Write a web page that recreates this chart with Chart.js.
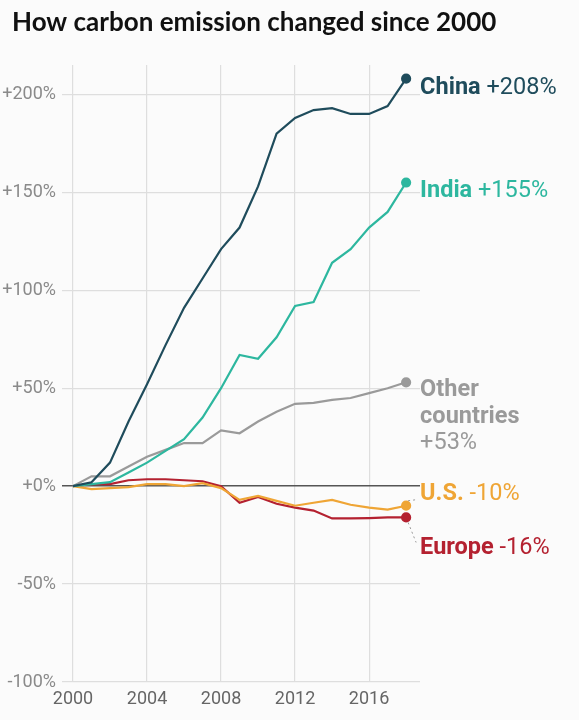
<!DOCTYPE html>
<html lang="en">
<head>
  <meta charset="UTF-8">
  <title>How carbon emission changed since 2000</title>
  <script src="https://cdn.jsdelivr.net/npm/chart.js"></script>
  <style>
    body { margin: 0; background: #fbfbfb; }
    #wrap { width: 579px; height: 720px; position: relative; }
  </style>
</head>
<body>
<div id="wrap"><canvas id="myChart"></canvas></div>

<script>
// data (% change vs 2000)
const years  = [2000, 2001, 2002, 2003, 2004, 2005, 2006, 2007, 2008, 2009, 2010, 2011, 2012, 2013, 2014, 2015, 2016, 2017, 2018];
const china  = [0, 2, 12, 33, 52, 72, 91, 106, 121, 132, 153, 180, 188, 192, 193, 190, 190, 194, 208];
const india  = [0, 1, 2, 7, 12, 18, 24, 35, 50, 67, 65, 76, 92, 94, 114, 121, 132, 140, 155];
const others = [0, 5, 5, 10, 15, 18.5, 22, 22, 28.5, 27, 33, 38, 42, 42.5, 44, 45, 47.5, 50, 53];
const us     = [0, -1.5, -1, -0.5, 1, 1, 0, 1.5, -1, -7, -5, -7.5, -10, -8.5, -7, -9.5, -11, -12, -10];
const europe = [0, 1, 1, 3, 3.5, 3.5, 3, 2.5, 0, -8.5, -5.5, -9, -11, -12.5, -16.5, -16.5, -16.3, -16, -16];

const seriesNames = ['China', 'India', 'Other countries', 'U.S.', 'Europe'];
const endValues   = ['+208%', '+155%', '+53%', '-10%', '-16%'];
const xTicks = [2000, 2004, 2008, 2012, 2016];
const yTicks = [-100, -50, 0, 50, 100, 150, 200];
const titleText = 'How carbon emission changed since 2000';

const colors = ['#1f4c5c', '#2db79f', '#9a9a9a', '#efa535', '#b42130'];
const allSeries = [china, india, others, us, europe];

const toPoints = (vals) => vals.map((v, i) => ({ x: years[i], y: v }));

const datasets = allSeries.map((vals, i) => ({
  label: seriesNames[i],
  data: toPoints(vals),
  borderColor: colors[i],
  backgroundColor: colors[i],
  borderWidth: 2.2,
  tension: 0,
  pointRadius: (ctx) => ctx.dataIndex === vals.length - 1 ? 4 : 0,
  pointHoverRadius: 0,
  clip: false
}));

// title drawn by hand so it can sit a bit in from the left edge
const titlePlugin = {
  id: 'titlePlugin',
  beforeDraw(chart) {
    const ctx = chart.ctx;
    ctx.save();
    ctx.font = 'bold 26px Lato';
    ctx.fillStyle = '#111';
    ctx.textBaseline = 'middle';
    ctx.textAlign = 'left';
    ctx.fillText(titleText, 12, 23);
    ctx.restore();
  }
};

// labels at the right end of every line
const endLabels = {
  id: 'endLabels',
  afterDatasetsDraw(chart) {
    const ctx = chart.ctx;
    const xs = chart.scales.x, ys = chart.scales.y;
    const last = years.length - 1;
    const px = xs.getPixelForValue(years[last]);
    const tx = px + 14;
    const offsets = [9, 9, 8, -12, 31];
    const bold = 'bold 23.5px Roboto, sans-serif';
    const normal = '23.5px Roboto, sans-serif';
    ctx.save();
    ctx.textBaseline = 'middle';
    ctx.textAlign = 'left';
    allSeries.forEach((vals, i) => {
      const py = ys.getPixelForValue(vals[last]);
      const ly = py + offsets[i];
      ctx.fillStyle = colors[i];
      if (i === 2) {
        const words = seriesNames[i].split(' ');
        ctx.font = bold;
        ctx.fillText(words[0], tx, ly);
        ctx.fillText(words[1], tx, ly + 26.5);
        ctx.font = normal;
        ctx.fillText(endValues[i], tx, ly + 53);
      } else {
        ctx.font = bold;
        ctx.fillText(seriesNames[i], tx, ly);
        const w = ctx.measureText(seriesNames[i] + ' ').width;
        ctx.font = normal;
        ctx.fillText(endValues[i], tx + w, ly);
      }
      // dotted leaders for the two lines that sit close together
      if (i === 3 || i === 4) {
        ctx.beginPath();
        ctx.setLineDash([2, 3]);
        ctx.strokeStyle = '#999';
        ctx.lineWidth = 1;
        const dir = i === 3 ? -1 : 1;
        ctx.moveTo(px + 2, py + dir * 5);
        ctx.lineTo(px + 10, ly - dir * 6);
        ctx.stroke();
        ctx.setLineDash([]);
      }
    });
    ctx.restore();
  }
};

new Chart('myChart', {
  type: 'line',
  data: { datasets: datasets },
  options: {
    responsive: true,
    maintainAspectRatio: false,
    animation: false,
    layout: { padding: { left: 0, right: 159, top: 65, bottom: 0 } },
    plugins: {
      legend: { display: false },
      tooltip: { enabled: false },
      title: { display: false }
    },
    scales: {
      x: {
        type: 'linear',
        min: 2000,
        max: 2018.75,
        afterBuildTicks: (scale) => { scale.ticks = xTicks.map(v => ({ value: v })); },
        afterFit: (scale) => { scale.height = 38; },
        border: { display: false },
        grid: { color: '#dedede', lineWidth: 1.2, drawTicks: false },
        ticks: {
          color: '#666',
          padding: 7,
          maxRotation: 0,
          font: { family: 'Roboto, sans-serif', size: 18 },
          callback: (v) => String(v)
        }
      },
      y: {
        min: -100,
        max: 215,
        afterBuildTicks: (scale) => { scale.ticks = yTicks.map(v => ({ value: v })); },
        afterFit: (scale) => { scale.width = 73; },
        border: { display: false },
        grid: {
          color: (c) => c.tick && c.tick.value === 0 ? '#555' : '#dedede',
          lineWidth: (c) => c.tick && c.tick.value === 0 ? 1.5 : 1.2,
          tickLength: 11
        },
        ticks: {
          color: '#8a8a8a',
          padding: 6,
          font: { family: 'Roboto, sans-serif', size: 18 },
          callback: (v) => (v > 0 ? '+' + v : v === 0 ? '+0' : String(v)) + '%'
        }
      }
    }
  },
  plugins: [titlePlugin, endLabels]
});
</script>
</body>
</html>
